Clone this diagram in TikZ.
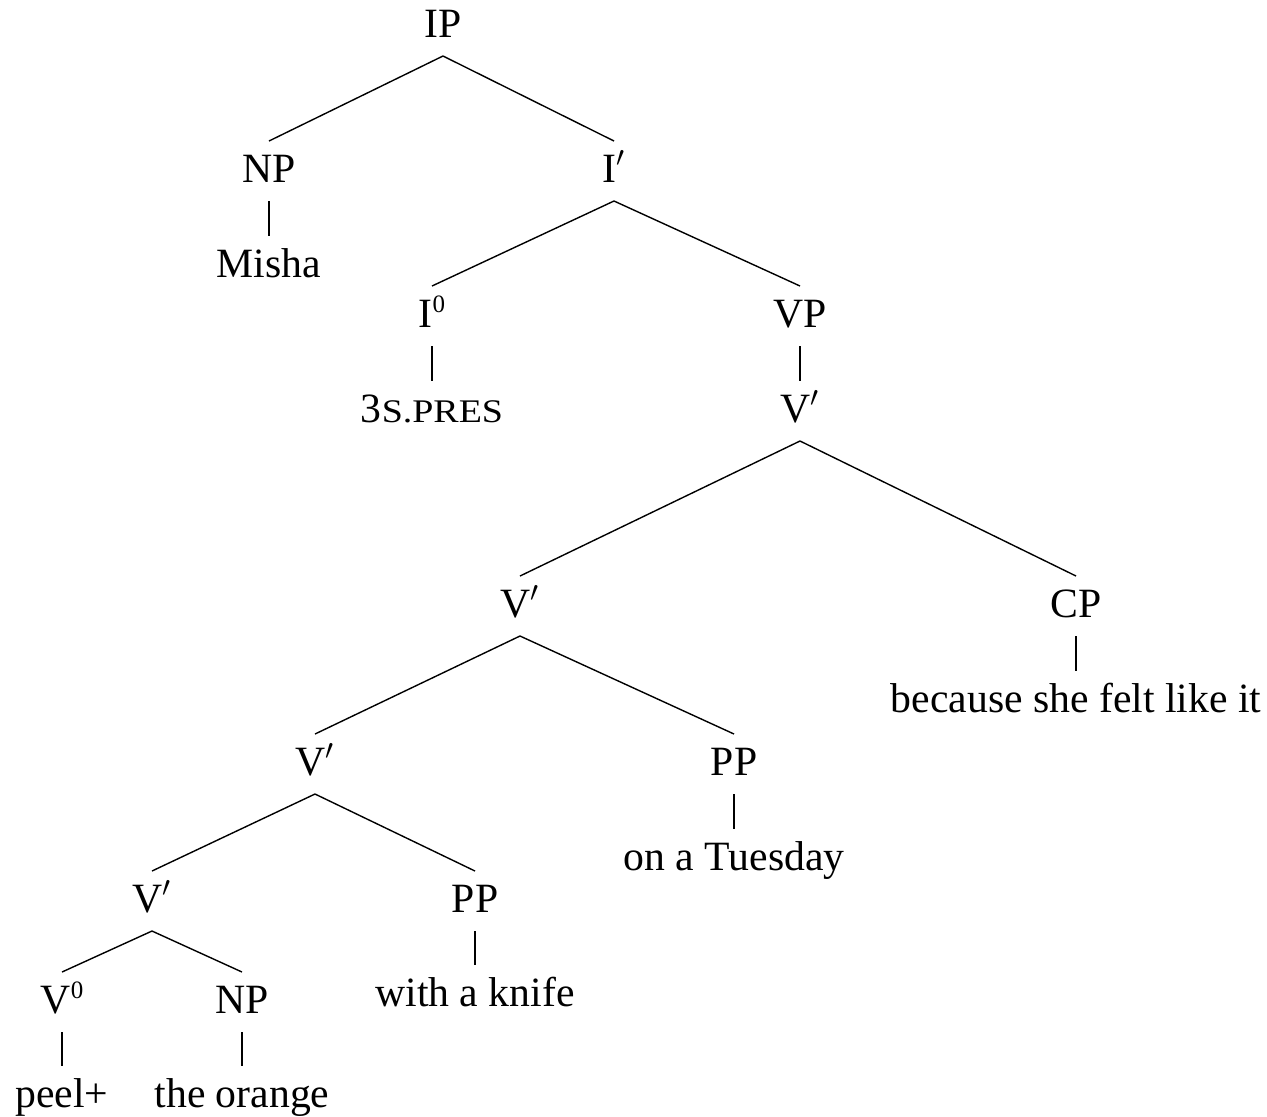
\documentclass[tikz,border=0pt]{standalone}
\usepackage{fontspec}
\setmainfont{Liberation Serif}
\usepackage{graphicx}
\newcommand\supz{\raisebox{7.5pt}{\fontsize{12.5pt}{14pt}\selectfont 0}}
\newcommand\smcap[1]{\scalebox{1.15}[1]{\fontsize{16.5pt}{18pt}\selectfont #1}}
\begin{document}
\begin{tikzpicture}[x=0.5pt,y=-0.5pt,
  lab/.style={anchor=base,inner sep=0pt,outer sep=0pt,text height=20.5pt,text depth=9.5pt,
    font=\fontsize{20.85pt}{25pt}\selectfont},
  edge/.style={line width=0.7pt,black}]
\useasboundingbox (0,0) rectangle (1267,1116);
\node[lab] (ip) at (443,37) {IP};
\node[lab] (np1) at (269,182) {NP};
\node[lab] (ibar) at (614,182) {I$'$};
\node[lab] (misha) at (269,277) {Misha};
\node[lab] (izero) at (432,327) {I\supz};
\node[lab] (vp) at (800,327) {VP};
\node[lab] (pres) at (432,422) {3\smcap{S.PRES}};
\node[lab] (vb1) at (800,422) {V$'$};
\node[lab] (vb2) at (520,617) {V$'$};
\node[lab] (cp) at (1076,617) {CP};
\node[lab] (because) at (1076,712) {because she felt like it};
\node[lab] (vb3) at (315,775) {V$'$};
\node[lab] (pp1) at (734,775) {PP};
\node[lab] (tues) at (734,870) {on a Tuesday};
\node[lab] (vb4) at (152,912) {V$'$};
\node[lab] (pp2) at (475,912) {PP};
\node[lab] (knife) at (475,1006) {with a knife};
\node[lab] (vzero) at (62,1013) {V\supz};
\node[lab] (np2) at (242,1013) {NP};
\node[lab] (peel) at (62,1107) {peel+};
\node[lab] (orange) at (242,1107) {the orange};
\draw[edge] (ip.south) -- (np1.north);
\draw[edge] (ip.south) -- (ibar.north);
\draw[edge] (np1.south) -- (misha.north);
\draw[edge] (ibar.south) -- (izero.north);
\draw[edge] (ibar.south) -- (vp.north);
\draw[edge] (izero.south) -- (pres.north);
\draw[edge] (vp.south) -- (vb1.north);
\draw[edge] (vb1.south) -- (vb2.north);
\draw[edge] (vb1.south) -- (cp.north);
\draw[edge] (cp.south) -- (because.north);
\draw[edge] (vb2.south) -- (vb3.north);
\draw[edge] (vb2.south) -- (pp1.north);
\draw[edge] (pp1.south) -- (tues.north);
\draw[edge] (vb3.south) -- (vb4.north);
\draw[edge] (vb3.south) -- (pp2.north);
\draw[edge] (pp2.south) -- (knife.north);
\draw[edge] (vb4.south) -- (vzero.north);
\draw[edge] (vb4.south) -- (np2.north);
\draw[edge] (vzero.south) -- (peel.north);
\draw[edge] (np2.south) -- (orange.north);
\end{tikzpicture}
\end{document}
